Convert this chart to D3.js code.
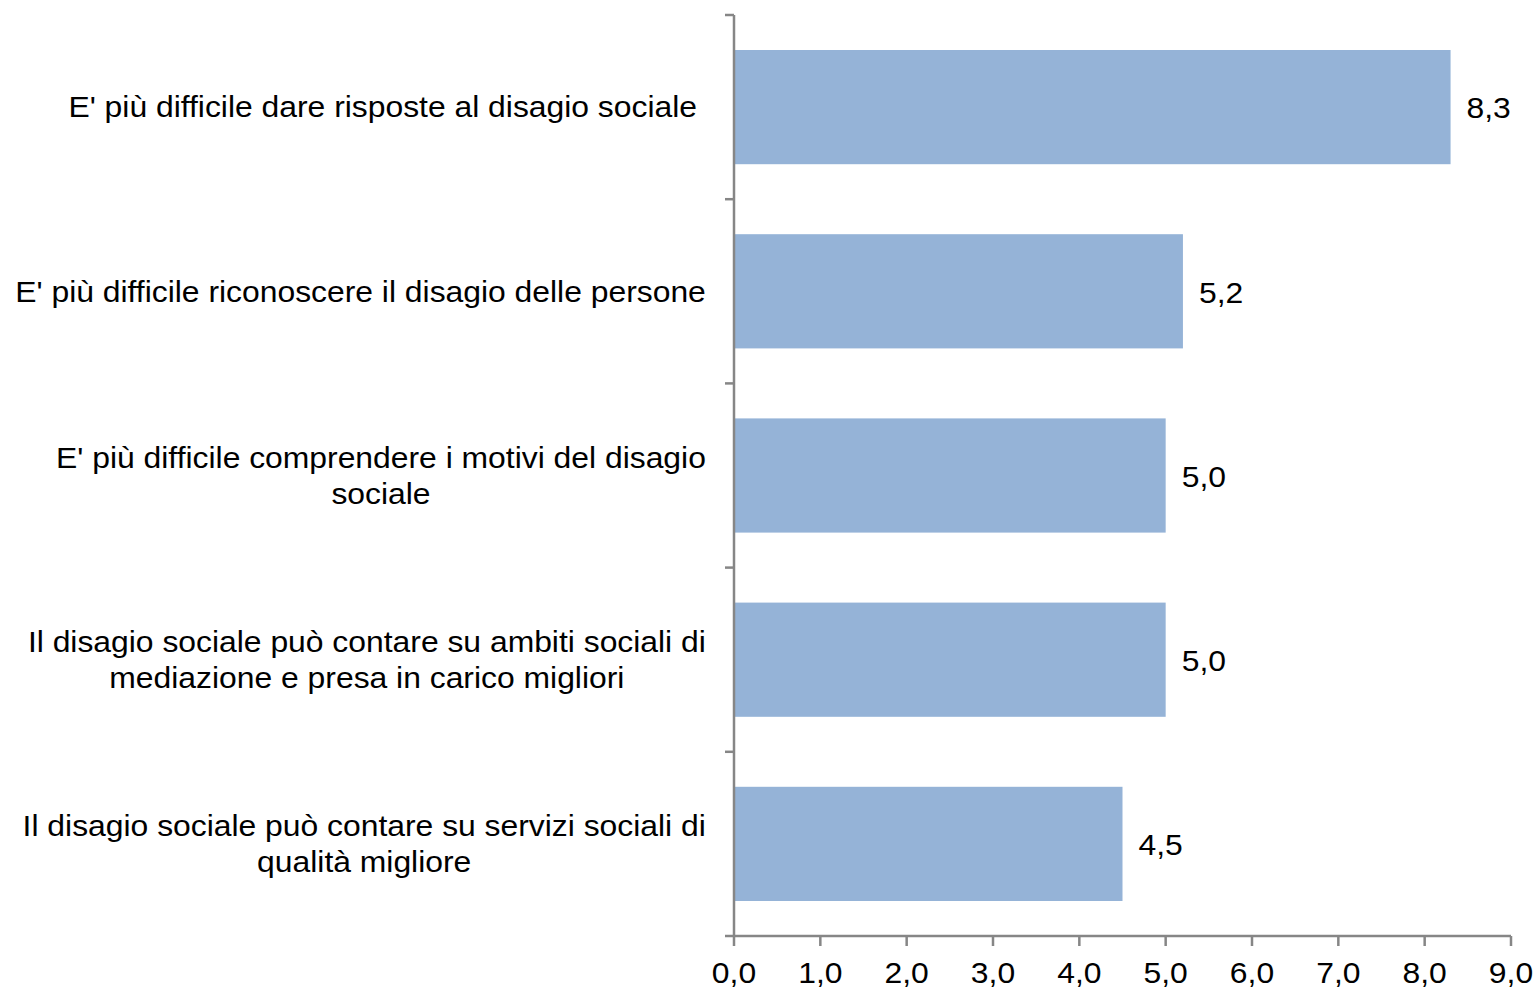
<!DOCTYPE html>
<html>
<head>
<meta charset="utf-8">
<script src="https://cdn.jsdelivr.net/npm/d3@7"></script>
<style>
html,body{margin:0;padding:0;background:#fff;}
svg text{font-family:"Liberation Sans",Arial,sans-serif;fill:#000;}
</style>
</head>
<body>
<svg id="chart" width="1536" height="992"></svg>
<script>
const categories = [
  ["E' più difficile dare risposte al disagio sociale "],
  ["E' più difficile riconoscere il disagio delle persone"],
  ["E' più difficile comprendere i motivi del disagio", "sociale"],
  ["Il disagio sociale può contare su ambiti sociali di", "mediazione e presa in carico migliori"],
  ["Il disagio sociale può contare su servizi sociali di", "qualità migliore"]
];
const values = [8.3, 5.2, 5.0, 5.0, 4.5];
const xTicks = [0,1,2,3,4,5,6,7,8,9];
const fmt = v => v.toFixed(1).replace(".", ",");

const svg = d3.select("#chart");
const pLeft = 734, pRight = 1511, pTop = 15, pBottom = 936;
const axisColor = "#868686";
const fontSize = 29.5;
const sx = 1.08; // horizontal stretch of the reference's text

const x = d3.scaleLinear().domain([0, 9]).range([pLeft, pRight]);
const y = d3.scaleBand().domain(d3.range(categories.length)).range([pTop, pBottom])
  .paddingInner(0.38).paddingOuter(0.19);

// bars
svg.append("g").selectAll("rect").data(values).join("rect")
  .attr("x", x(0))
  .attr("y", (d,i) => y(i))
  .attr("width", d => x(d) - x(0))
  .attr("height", y.bandwidth())
  .attr("fill", "#95B3D7");

// value labels
svg.append("g").selectAll("text").data(values).join("text")
  .attr("transform", (d,i) => `translate(${x(d) + 16},${y(i) + y.bandwidth()/2 + 1}) scale(${sx},1)`)
  .attr("dy", "0.35em")
  .attr("font-size", fontSize)
  .text(d => fmt(d));

// y axis line and ticks
const step = y.step();
const yTickPos = d3.range(categories.length + 1).map(i => pTop + i * step);
const ax = svg.append("g").attr("stroke", axisColor).attr("stroke-width", 2.5).attr("fill", "none");
ax.append("line").attr("x1", pLeft).attr("x2", pLeft).attr("y1", pTop).attr("y2", pBottom);
ax.selectAll(".yt").data(yTickPos).join("line").attr("class","yt")
  .attr("x1", pLeft - 9).attr("x2", pLeft).attr("y1", d => d).attr("y2", d => d);
// x axis
ax.append("line").attr("x1", pLeft).attr("x2", pRight).attr("y1", pBottom).attr("y2", pBottom);
ax.selectAll(".xt").data(xTicks).join("line").attr("class","xt")
  .attr("x1", d => x(d)).attr("x2", d => x(d)).attr("y1", pBottom).attr("y2", pBottom + 10);

// x tick labels
svg.append("g").selectAll("text").data(xTicks).join("text")
  .attr("transform", d => `translate(${x(d)},973) scale(${sx},1)`)
  .attr("dy", "0.35em")
  .attr("text-anchor", "middle")
  .attr("font-size", fontSize)
  .text(d => fmt(d));

// category labels: block right-aligned at 706, lines centered within block
const labelRight = 706;
const lineH = 36;
const lg = svg.append("g");
categories.forEach((lines, i) => {
  const g = lg.append("g");
  const cy = y(i) + y.bandwidth()/2;
  const texts = lines.map((l, j) => g.append("text")
    .attr("font-size", fontSize)
    .style("white-space", "pre")
    .attr("dy", "0.35em")
    .attr("text-anchor", "middle")
    .text(l));
  const widths = texts.map(t => t.node().getComputedTextLength());
  const maxW = d3.max(widths) * sx;
  texts.forEach((t, j) => t.attr("transform",
    `translate(${labelRight - maxW/2},${cy + (j - (lines.length-1)/2) * lineH}) scale(${sx},1)`));
});
</script>
</body>
</html>
